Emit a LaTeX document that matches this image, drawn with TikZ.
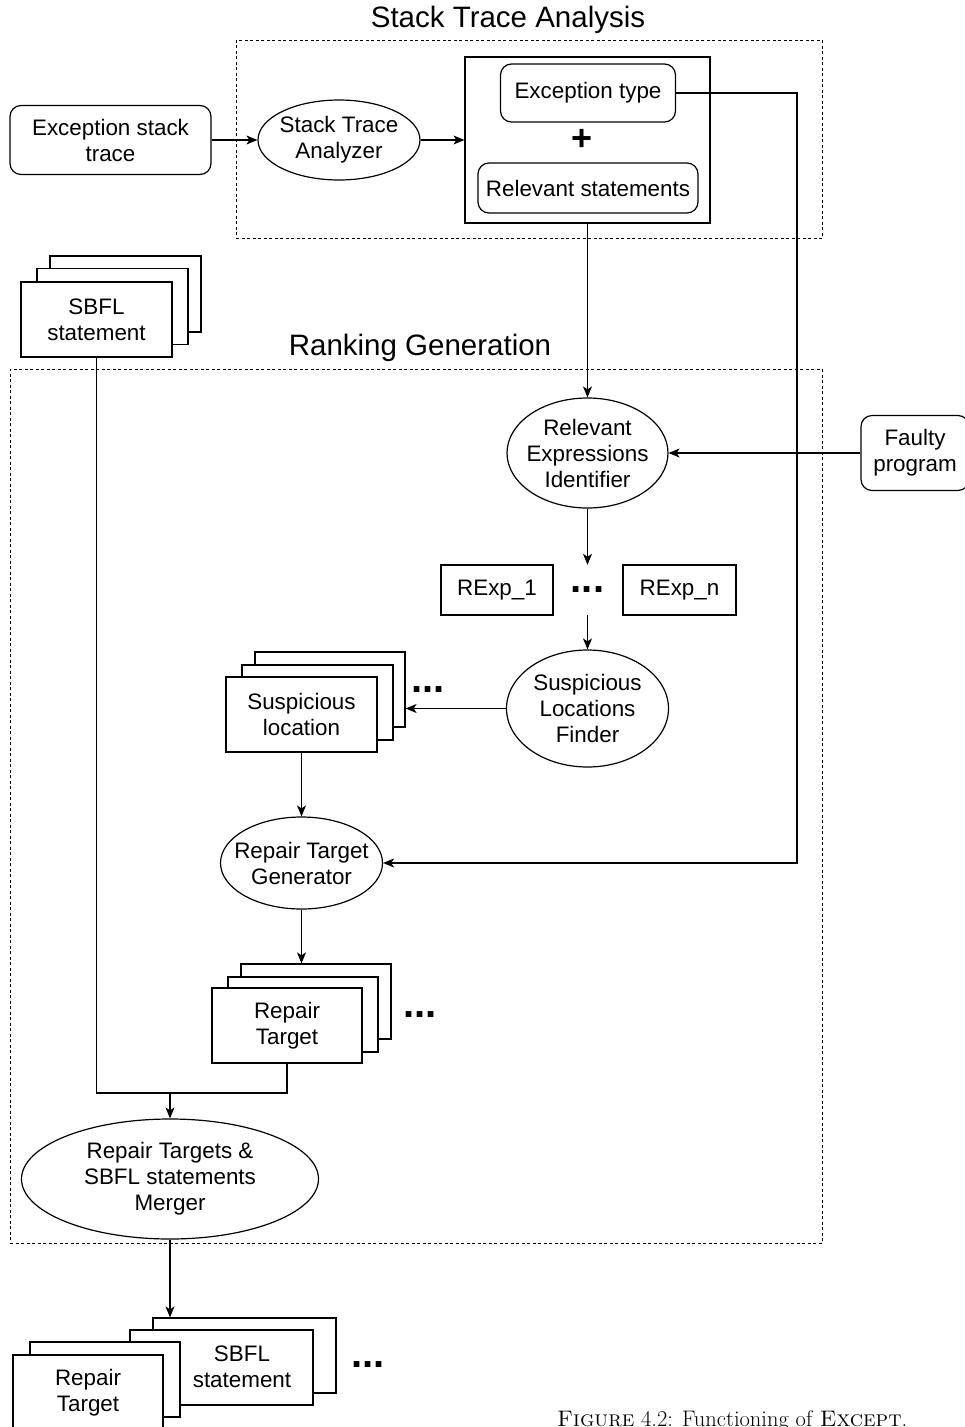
\documentclass[tikz,border=0pt]{standalone}
\usepackage{fontspec}
\newfontfamily\lsans{Liberation Sans}
\usetikzlibrary{shapes.geometric,arrows.meta}
\begin{document}
\begin{tikzpicture}[x=1pt,y=-1pt,
  every node/.style={font=\lsans\fontsize{22.4}{26}\selectfont, align=center, inner sep=0pt},
  box/.style={draw, rectangle, line width=1.2pt, fill=white},
  rbox/.style={box, rounded corners=11pt},
  ell/.style={draw, ellipse, line width=1.2pt, fill=white, inner sep=-25pt},
  dashbox/.style={draw, rectangle, line width=1pt, dash pattern=on 3pt off 2.5pt},
  titletext/.style={font=\lsans\fontsize{29.5}{32}\selectfont},
  dotstext/.style={font=\lsans\bfseries\fontsize{40}{40}\selectfont},
  conn/.style={line width=1.2pt},
  arr/.style={line width=1.2pt, -{Stealth[length=11pt,width=9pt,inset=3pt]}},
  sz/.style 2 args={minimum width=#1, minimum height=#2}
]
\useasboundingbox (0,0) rectangle (964,1427);

% ---------- Stack Trace Analysis ----------
\node[titletext] (t1) at (508,20) {Stack Trace Analysis};
\node[dashbox, sz={586}{198}] (stabox) at (529,139) {};

\node[rbox, sz={201}{69}] (est) at (110.5,140) {Exception stack\\trace};
\node[ell, sz={162}{80}] (sta) at (339,140) {Stack Trace\\Analyzer};
\node[box, sz={245}{166}] (cont) at (587.5,140) {};
\node[rbox, sz={175}{58}] (etype) at (588,93) {Exception type};
\node[font=\lsans\bfseries\fontsize{36}{36}\selectfont] (plus) at (582,140) {+};
\node[rbox, sz={220}{50}] (rstat) at (588,188) {Relevant statements};

\draw[arr] (est.east) -- (sta.west);
\draw[arr] (sta.east) -- (cont.west);

% ---------- SBFL statement stack (top) ----------
\node[box, sz={151}{76}] (sb3) at (125.5,294) {};
\node[box, sz={151}{76}] (sb2) at (112.5,306.5) {};
\node[box, sz={151}{75}] (sb1) at (96.5,319.5) {SBFL\\statement};

% ---------- Ranking Generation ----------
\node[titletext] (t2) at (420,348) {Ranking Generation};
\node[dashbox, sz={812}{874}] (rgbox) at (416,806) {};

\node[ell, sz={161}{110}] (rei) at (587.5,453) {Relevant\\Expressions\\Identifier};
\node[rbox, sz={108}{75}] (faulty) at (915,453) {Faulty\\program};
\draw[arr] (cont.south) -- (rei.north);
\draw[arr] (faulty.west) -- (rei.east);

\node[box, sz={112}{50}] (rexp1) at (497,590) {RExp\_1};
\node[box, sz={113}{50}] (rexpn) at (679.5,590) {RExp\_n};
\node[dotstext, minimum height=50] (dots1) at (587.5,590) {...};
\draw[arr] (rei.south) -- (dots1.north);

\node[ell, sz={162}{117}] (slf) at (587.5,708.5) {Suspicious\\Locations\\Finder};
\draw[arr] (dots1.south) -- (slf.north);

\node[box, sz={150}{75}] (sl3) at (330,689.5) {};
\node[box, sz={151}{75}] (sl2) at (317.5,702.5) {};
\node[box, sz={151}{75}] (sl1) at (301.5,714.5) {Suspicious\\location};
\node[dotstext] (dots2) at (428,690) {...};
\draw[arr] (slf.west) -- (slf.west -| sl3.east);

\node[ell, sz={162}{92}] (rtg) at (301.5,863) {Repair Target\\Generator};
\draw[arr] (sl1.south) -- (rtg.north);

\coordinate (turn) at (797,863);
\draw[arr] (etype.east) -| (turn) -- (rtg.east);

\node[box, sz={150}{75}] (rt3) at (316,1001.5) {};
\node[box, sz={150}{75}] (rt2) at (303,1014.5) {};
\node[box, sz={150}{75}] (rt1) at (287,1025.5) {Repair\\Target};
\node[dotstext] (dots3) at (420,1015) {...};
\draw[arr] (rtg.south) -- (rtg.south |- rt3.north);

\node[ell, sz={297}{120}] (merger) at (170,1179) {Repair Targets \&\\SBFL statements\\Merger};
\coordinate (j) at (170,1093);
\draw[conn] (sb1.south) |- (j);
\draw[conn] (rt1.south) |- (j);
\draw[arr] (j) -- (merger.north);

% ---------- Output stacks ----------
\node[box, sz={183}{75}] (bsb2) at (244.5,1355.5) {};
\node[box, sz={183}{75}] (bsb1) at (221.5,1367.5) {};
\node (bsbt) at (242,1367) {SBFL\\statement};
\node[box, sz={150}{75}] (brt2) at (105,1379.5) {};
\node[box, sz={150}{75}] (brt1) at (88,1392.5) {Repair\\Target};
\node[dotstext] (dots4) at (368,1365) {...};
\draw[arr] (merger.south) -- (merger.south |- bsb2.north);

% ---------- Caption ----------
\node[font=\rmfamily\fontsize{22.5}{26}\selectfont, anchor=base west] (cap) at (557,1426) {\textsc{Figure} 4.2: Functioning of \textsc{Except}.};
\end{tikzpicture}
\end{document}
